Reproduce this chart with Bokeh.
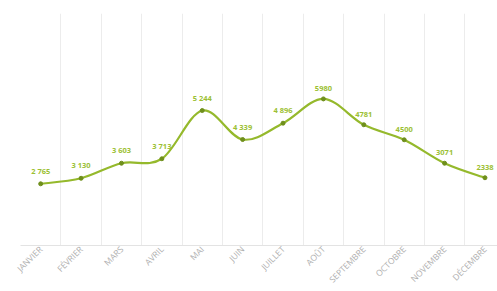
import numpy as np
from bokeh.plotting import figure
from bokeh.models import ColumnDataSource, FixedTicker, Range1d, CustomJSTickFormatter
from bokeh.embed import file_html
from bokeh.resources import INLINE
from bokeh.core.properties import value

months = ["JANVIER", "FÉVRIER", "MARS", "AVRIL", "MAI", "JUIN", "JUILLET",
          "AOÛT", "SEPTEMBRE", "OCTOBRE", "NOVEMBRE", "DÉCEMBRE"]
values = [2740, 2950, 3520, 3690, 5520, 4420, 5040, 5960, 4980, 4410, 3520, 2970]
labels = ["2 765", "3 130", "3 603", "3 713", "5 244", "4 339", "4 896",
          "5980", "4781", "4500", "3071", "2338"]

GREEN = "#95b92c"
DOT = "#6f8f1c"

p = figure(width=497, height=291, output_backend="svg", toolbar_location=None,
           x_range=Range1d(-0.5, 11.31), y_range=Range1d(400, 9200),
           y_axis_location=None, min_border_left=20, min_border_right=0,
           min_border_top=13, min_border_bottom=40)
p.outline_line_color = None
p.background_fill_color = "white"

xs = np.arange(len(values), dtype=float)
ys = np.array(values, dtype=float)

# smooth curve via Catmull-Rom -> cubic bezier segments
n = len(xs)
x0 = xs[:-1]; y0 = ys[:-1]; x1 = xs[1:]; y1 = ys[1:]
xp = np.concatenate([[xs[0]], xs, [xs[-1]]])
yp = np.concatenate([[ys[0]], ys, [ys[-1]]])
cx0 = xp[1:n] + (xp[2:n+1] - xp[0:n-1]) / 6
cy0 = yp[1:n] + (yp[2:n+1] - yp[0:n-1]) / 6
cx1 = xp[2:n+1] - (xp[3:n+2] - xp[1:n]) / 6
cy1 = yp[2:n+1] - (yp[3:n+2] - yp[1:n]) / 6
p.bezier(x0=x0, y0=y0, x1=x1, y1=y1, cx0=cx0, cy0=cy0, cx1=cx1, cy1=cy1,
         line_color=GREEN, line_width=2.2)

src = ColumnDataSource(dict(x=xs, y=ys, lab=labels))
p.scatter("x", "y", source=src, size=4, fill_color=DOT, line_color=DOT)
p.text("x", "y", text="lab", source=src, text_align="center",
       text_baseline="bottom", y_offset=-8, text_font_size="7.5px",
       text_color="#9cbf34", text_font=value("Open Sans"), text_font_style="bold")

p.xgrid.ticker = FixedTicker(ticks=[i - 0.5 for i in range(13)])
p.xgrid.grid_line_color = "#ececec"
p.ygrid.grid_line_color = None

ax = p.xaxis[0]
ax.ticker = FixedTicker(ticks=list(range(12)))
ax.formatter = CustomJSTickFormatter(args=dict(m=months), code="return m[tick];")
ax.major_label_orientation = np.pi / 4
ax.major_label_text_font_size = "8.5px"
ax.major_label_text_color = "#b0b0b0"
ax.major_label_text_font = "Open Sans"
ax.major_tick_line_color = None
ax.minor_tick_line_color = None
ax.major_tick_out = 0
ax.major_tick_in = 0
ax.axis_line_color = "#e3e3e3"
ax.major_label_standoff = 2

open("out.html", "w").write(file_html(p, INLINE))
